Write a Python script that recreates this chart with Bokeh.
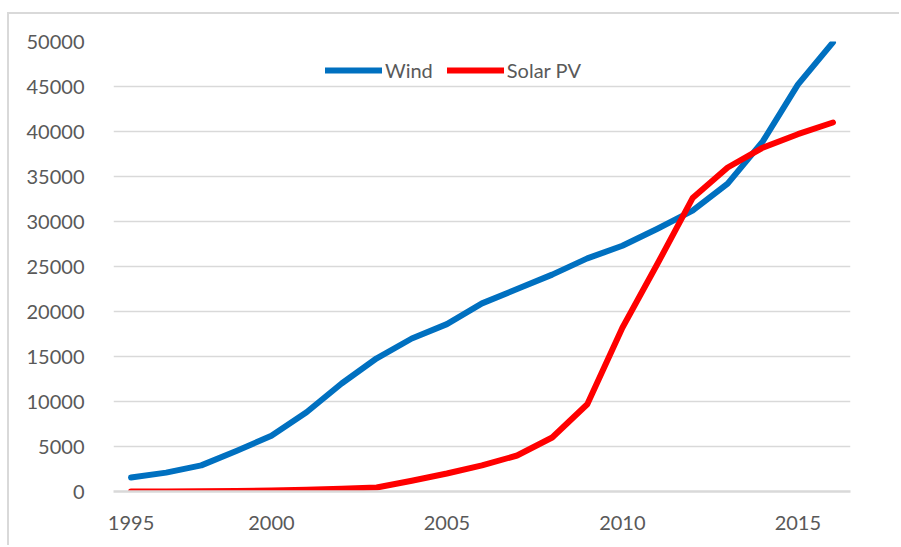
from bokeh.plotting import figure
from bokeh.models import Range1d, FixedTicker, Legend, LegendItem
from bokeh.embed import file_html
from bokeh.resources import INLINE

# Data (installed capacity, MW) — one point per category step
steps = list(range(21))
wind = [1550, 2100, 2900, 4500, 6200, 8800, 12000, 14800, 17000, 18600,
        20900, 22500, 24100, 25900, 27300, 29200, 31200, 34200, 38900, 45200, 49900]
solar = [0, 10, 30, 60, 100, 200, 300, 450, 1200, 2000,
         2900, 4000, 6000, 9700, 18200, 25300, 32600, 36000, 38200, 39700, 41000]
x_tick_pos = [0, 4, 9, 14, 19]
x_tick_lab = ["1995", "2000", "2005", "2010", "2015"]
y_ticks = [0, 5000, 10000, 15000, 20000, 25000, 30000, 35000, 40000, 45000, 50000]

FONT = "Lato"
TXT = "#595959"
GRID = "#d9d9d9"

p = figure(width=892, height=533, output_backend="svg", toolbar_location=None,
           x_range=Range1d(-0.5, 20.5), y_range=Range1d(0, 50000),
           min_border_left=104, min_border_top=27, min_border_right=51, min_border_bottom=56)
p.styles = {"margin-left": "7px", "margin-top": "12px",
            "border-left": "2px solid #d9d9d9", "border-top": "2px solid #d9d9d9"}
p.outline_line_color = None
p.background_fill_color = "white"
p.border_fill_color = "white"

p.xgrid.grid_line_color = None
p.ygrid.grid_line_color = GRID
p.ygrid.grid_line_width = 1.5
p.ygrid.ticker = FixedTicker(ticks=y_ticks)

p.yaxis.ticker = FixedTicker(ticks=y_ticks)
p.yaxis.axis_line_color = None
p.yaxis.major_tick_line_color = None
p.yaxis.minor_tick_line_color = None
p.yaxis.major_label_standoff = 23
p.yaxis.major_label_text_font = FONT
p.yaxis.major_label_text_font_size = "20px"
p.yaxis.major_label_text_color = TXT

p.xaxis.ticker = FixedTicker(ticks=x_tick_pos)
p.xaxis.major_label_overrides = {pos: lab for pos, lab in zip(x_tick_pos, x_tick_lab)}
p.xaxis.axis_line_color = GRID
p.xaxis.axis_line_width = 2.5
p.xaxis.major_tick_line_color = None
p.xaxis.minor_tick_line_color = None
p.xaxis.major_label_standoff = 18
p.xaxis.major_label_text_font = FONT
p.xaxis.major_label_text_font_size = "20px"
p.xaxis.major_label_text_color = TXT

rw = p.line(steps, wind, line_color="#0070C0", line_width=6, line_cap="round", line_join="round")
rs = p.line(steps, solar, line_color="#FF0000", line_width=6, line_cap="round", line_join="round")

legend = Legend(items=[LegendItem(label="Wind", renderers=[rw]),
                       LegendItem(label="Solar PV", renderers=[rs])],
                orientation="horizontal", location=(212, 409),
                padding=0, margin=0, spacing=14, label_standoff=3,
                glyph_width=57, glyph_height=20,
                border_line_alpha=0, background_fill_alpha=0,
                label_text_font=FONT, label_text_font_size="20px", label_text_color=TXT)
p.add_layout(legend)

open("out.html", "w").write(file_html(p, INLINE))
